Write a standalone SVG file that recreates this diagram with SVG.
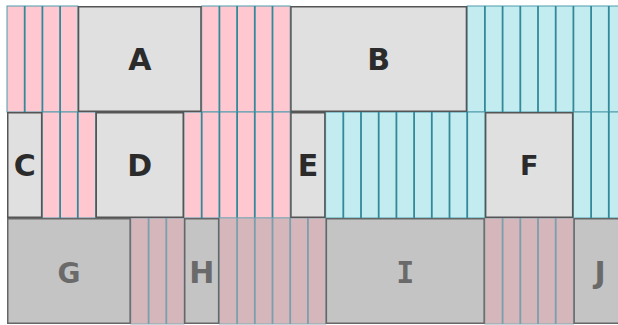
<svg xmlns="http://www.w3.org/2000/svg" width="618" height="325" viewBox="0 0 618 325">
<style>
.pk{fill:#ffc8d0;stroke:#4d9cab;stroke-width:1}
.cy{fill:#c2ecef;stroke:#4d9cab;stroke-width:1}
.dk{fill:#d5b6ba;stroke:#8aa9b4;stroke-width:1}
.ln{stroke:#32899a;stroke-width:1.8;fill:none}
.lnd{stroke:#7a9fad;stroke-width:1.8;fill:none}
.box rect{fill:#e0e0e0;stroke:#555;stroke-width:1.5}
.box text{font-family:"DejaVu Sans",Verdana,sans-serif;font-weight:bold;font-size:30px;fill:#2b2b2b;text-anchor:middle}
.lo rect{fill:#c4c4c4;stroke:#666;stroke-width:1.5}
.lo text{fill:#6a6a6a}
.mono{font-family:"DejaVu Sans Mono",monospace !important}
</style>
<g id="tracks">
<rect class="pk" x="7" y="6" width="70.8" height="106"/>
<path class="ln" d="M24.7 6v106M42.4 6v106M60.1 6v106"/>
<rect class="pk" x="201.7" y="6" width="88.5" height="106"/>
<path class="ln" d="M219.4 6v106M237.1 6v106M254.8 6v106M272.5 6v106"/>
<rect class="cy" x="467.2" y="6" width="160" height="106"/>
<path class="ln" d="M484.9 6v106M502.6 6v106M520.3 6v106M538 6v106M555.7 6v106M573.4 6v106M591.1 6v106M608.8 6v106"/>
<rect class="pk" x="42.4" y="112" width="53.1" height="106"/>
<path class="ln" d="M60.1 112v106M77.8 112v106"/>
<rect class="pk" x="184" y="112" width="106.2" height="106"/>
<path class="ln" d="M201.7 112v106M219.4 112v106M237.1 112v106M254.8 112v106M272.5 112v106"/>
<rect class="cy" x="325.6" y="112" width="159.3" height="106"/>
<path class="ln" d="M343.3 112v106M361 112v106M378.7 112v106M396.4 112v106M414.1 112v106M431.8 112v106M449.5 112v106M467.2 112v106"/>
<rect class="cy" x="573.4" y="112" width="60" height="106"/>
<path class="ln" d="M591.1 112v106M608.8 112v106"/>
<rect class="dk" x="130.9" y="218" width="53.1" height="106"/>
<path class="lnd" d="M148.6 218v106M166.3 218v106"/>
<rect class="dk" x="219.4" y="218" width="106.2" height="106"/>
<path class="lnd" d="M237.1 218v106M254.8 218v106M272.5 218v106M290.2 218v106M307.9 218v106"/>
<rect class="dk" x="484.9" y="218" width="88.5" height="106"/>
<path class="lnd" d="M502.6 218v106M520.3 218v106M538 218v106M555.7 218v106"/>
</g>
<g id="A" class="box"><rect x="78.55" y="6.75" width="122.4" height="104.5"/><text x="139.8" y="70">A</text></g>
<g id="B" class="box"><rect x="290.95" y="6.75" width="175.5" height="104.5"/><text x="378.7" y="70">B</text></g>
<g id="C" class="box"><rect x="7.75" y="112.75" width="33.9" height="104.5"/><text x="24.7" y="176">C</text></g>
<g id="D" class="box"><rect x="96.25" y="112.75" width="87" height="104.5"/><text x="139.8" y="176">D</text></g>
<g id="E" class="box"><rect x="290.95" y="112.75" width="33.9" height="104.5"/><text x="307.9" y="176">E</text></g>
<g id="F" class="box"><rect x="485.65" y="112.75" width="87" height="104.5"/><text x="529.2" y="175" style="font-size:27px">F</text></g>
<g id="G" class="box lo"><rect x="7.75" y="218.75" width="122.4" height="104.5"/><text x="69" y="283" style="font-size:28px">G</text></g>
<g id="H" class="box lo"><rect x="184.75" y="218.75" width="33.9" height="104.5"/><text x="201.7" y="283">H</text></g>
<g id="I" class="box lo"><rect x="326.35" y="218.75" width="157.8" height="104.5"/><text class="mono" x="405.2" y="283">I</text></g>
<g id="J" class="box lo"><rect x="574.15" y="218.75" width="51.6" height="104.5"/><text x="600" y="283">J</text></g>
</svg>
